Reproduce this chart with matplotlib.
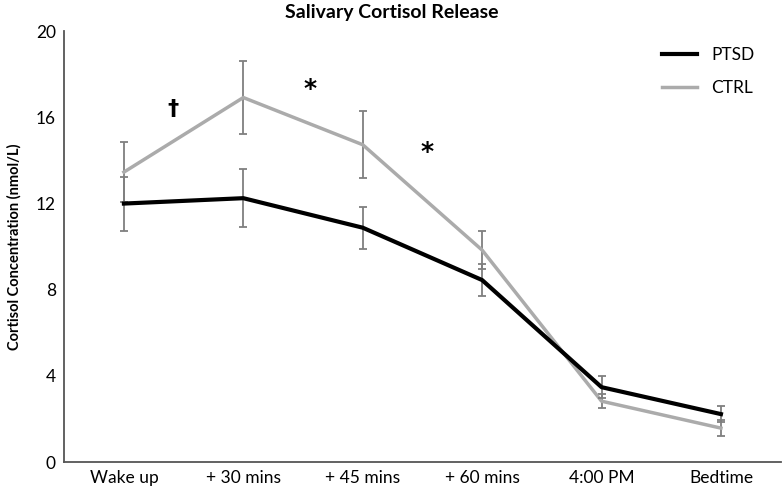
import matplotlib
matplotlib.use("Agg")
import matplotlib.pyplot as plt
import numpy as np

plt.rcParams['font.family'] = ['Lato', 'DejaVu Sans']

# Time points
labels = ["Wake up", "+ 30 mins", "+ 45 mins", "+ 60 mins", "4:00 PM", "Bedtime"]

# Mean cortisol (nmol/L) and error bars
ptsd = [12.0, 12.25, 10.88, 8.45, 3.48, 2.23]
ptsd_err = [1.25, 1.35, 0.97, 0.75, 0.5, 0.38]
ctrl = [13.46, 16.92, 14.73, 9.84, 2.83, 1.58]
ctrl_err = [1.4, 1.7, 1.55, 0.88, 0.33, 0.36]

# Significance markers
sig_marks = ["\u2020", "*", "*"]
sig_x = [0.41, 1.56, 2.54]
sig_y = [16.4, 17.3, 14.4]

x = np.arange(len(labels))

fig = plt.figure(figsize=(7.83, 4.87), dpi=100)
ax = fig.add_axes([0.082, 0.051, 0.915, 0.885])

ax.errorbar(x, ctrl, yerr=ctrl_err, color='#ababab', lw=2.5, ecolor='#7f7f7f',
            elinewidth=1.3, capsize=3, capthick=1.3, label='CTRL', zorder=2)
ax.errorbar(x, ptsd, yerr=ptsd_err, color='black', lw=3, ecolor='#7f7f7f',
            elinewidth=1.3, capsize=3, capthick=1.3, label='PTSD', zorder=3)

for m, xx, yy in zip(sig_marks, sig_x, sig_y):
    ax.text(xx, yy, m, ha='center', va='center', fontsize=18 if m == '*' else 16,
            fontweight='bold', family='DejaVu Sans')

ax.set_xlim(-0.5, 5.5)
ax.set_ylim(0, 20)
ax.set_yticks([0, 4, 8, 12, 16, 20])
ax.set_xticks(x)
ax.set_xticklabels(labels)
ax.tick_params(length=0, labelsize=12.5, pad=6)
for s in ['top', 'right']:
    ax.spines[s].set_visible(False)
for s in ['left', 'bottom']:
    ax.spines[s].set_color('#555555')
    ax.spines[s].set_linewidth(1.3)

ax.set_ylabel("Cortisol Concentration (nmol/L)", fontsize=10.5, fontweight='bold', labelpad=10)
fig.text(0.5, 0.975, "Salivary Cortisol Release", ha='center', va='center',
         fontsize=14, fontweight='bold')

h, l = ax.get_legend_handles_labels()
order = [l.index('PTSD'), l.index('CTRL')]
leg = ax.legend([h[i][0] for i in order], [l[i] for i in order], loc='upper right',
                bbox_to_anchor=(0.985, 1.0), frameon=False, fontsize=12.5,
                handlelength=2.0, labelspacing=1.0)

fig.savefig("out.png", dpi=100)
